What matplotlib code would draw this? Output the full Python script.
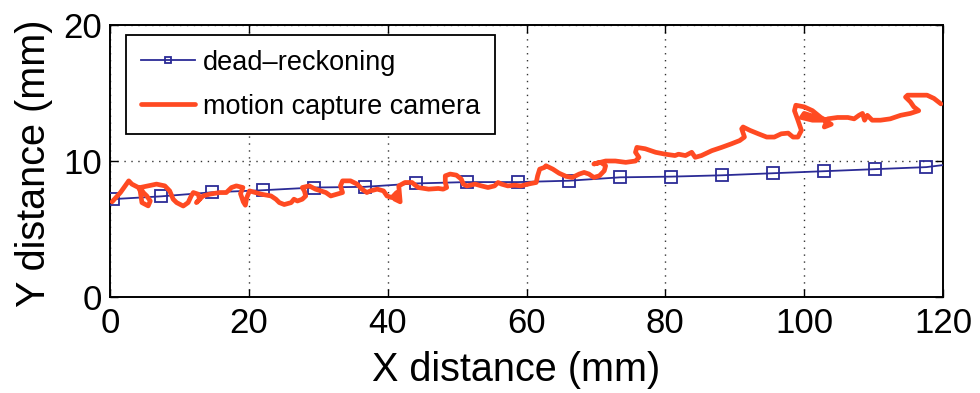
import matplotlib
matplotlib.use("Agg")
import matplotlib.pyplot as plt
import numpy as np

plt.rcParams['font.family'] = ['Liberation Sans', 'DejaVu Sans']

# dead-reckoning estimate
dr_x = [0.5, 7.35, 14.7, 22.0, 29.4, 36.7, 44.1, 51.4, 58.8, 66.1, 73.5, 80.8,
        88.2, 95.5, 102.9, 110.2, 117.6, 120.0]
dr_y = [7.2, 7.4, 7.7, 7.85, 8.05, 8.1, 8.35, 8.45, 8.45, 8.55, 8.8, 8.85,
        8.95, 9.1, 9.25, 9.4, 9.55, 9.7]

# motion capture camera trajectory
mc_x = [0.3, 1.5, 2.7, 3.15, 4.1, 4.35, 4.6, 5.5, 5.8, 5.3, 4.8, 4.35, 5.5, 6.7,
        7.9, 8.6, 9.1, 9.6, 10.55, 11.25, 11.7, 12.0, 12.7, 12.9, 12.45, 13.4,
        14.35, 15.8, 16.75, 17.5, 18.2, 19.15, 18.8, 19.2, 19.5, 19.7, 20.1,
        21.8, 23.2, 23.9, 24.4, 25.1, 26.1, 26.5, 27.0, 27.7, 28.2, 28.0, 27.7,
        28.7, 29.6, 30.4, 31.1, 31.8, 32.7, 33.5, 33.2, 33.5, 34.65, 35.6, 36.3,
        37.0, 37.5, 38.5, 39.4, 39.9, 40.6, 41.3, 41.0, 41.8, 41.6, 42.5, 43.5,
        44.4, 45.9, 47.3, 48.0, 48.5, 48.3, 48.3, 49.0, 49.9, 50.6, 50.9, 51.4,
        52.6, 53.5, 54.45, 55.4, 55.9, 56.4, 57.3, 58.3, 59.2, 60.2, 61.4, 61.6,
        61.9, 62.6, 62.8, 63.8, 64.7, 65.7, 66.6, 67.6, 68.3, 69.0, 69.7, 70.5,
        71.2, 71.4, 70.7, 69.7, 71.4, 72.8, 74.3, 75.7, 76.2, 75.7, 75.9, 77.1,
        78.6, 80.0, 81.4, 81.9, 82.9, 83.8, 84.3, 85.2, 86.7, 88.1, 89.5, 90.7,
        91.4, 91.0, 91.2, 92.2, 93.4, 94.6, 95.7, 96.7, 97.7, 98.4, 99.1, 99.6,
        99.1, 98.6, 98.8, 100.0, 101.2, 102.4, 103.1, 100.0, 99.6, 101.2, 102.9,
        103.9, 102.9, 103.4, 104.8, 106.3, 107.2, 107.9, 108.4, 108.7, 109.1,
        109.8, 111.0, 112.4, 113.9, 115.3, 116.5, 115.8, 115.3, 114.6, 114.9,
        116.3, 117.7, 118.7, 119.7]
mc_y = [7.0, 7.68, 8.54, 8.3, 8.05, 7.8, 6.94, 6.7, 7.06, 7.43, 7.68, 8.05, 8.17,
        8.3, 8.17, 7.8, 7.19, 6.94, 6.69, 6.94, 7.43, 7.68, 7.56, 7.19, 6.94,
        7.43, 7.56, 7.68, 7.68, 8.05, 8.17, 8.05, 7.6, 7.0, 6.75, 7.3, 7.8,
        7.56, 7.43, 7.19, 6.94, 6.8, 6.94, 7.19, 7.06, 7.19, 7.43, 7.8, 8.05,
        8.17, 7.93, 7.8, 7.68, 7.43, 7.56, 7.68, 8.17, 8.54, 8.54, 8.3, 7.93,
        7.68, 7.8, 7.93, 7.8, 7.43, 7.31, 7.68, 7.2, 7.0, 8.17, 8.42, 8.42,
        8.05, 7.93, 7.98, 7.93, 8.05, 8.42, 8.91, 9.04, 8.96, 8.67, 8.3, 8.17,
        8.3, 8.17, 8.05, 8.17, 8.42, 8.3, 8.17, 8.22, 8.17, 8.3, 8.42, 8.91,
        9.4, 9.53, 9.65, 9.4, 9.1, 8.87, 8.79, 9.04, 9.16, 9.04, 8.79, 8.91,
        9.28, 9.65, 9.9, 9.78, 10.0, 10.0, 9.9, 10.0, 10.27, 10.64, 11.0, 10.9,
        10.64, 10.5, 10.4, 10.5, 10.4, 10.64, 10.27, 10.4, 10.76, 11.0, 11.26,
        11.5, 11.76, 12.37, 12.5, 12.25, 12.0, 11.76, 11.76, 12.0, 12.05, 11.76,
        11.76, 12.25, 13.0, 13.7, 14.1, 13.98, 13.7, 13.2, 13.0, 13.5, 13.2,
        13.0, 13.0, 12.7, 12.5, 13.1, 13.2, 13.2, 13.1, 13.36, 13.5, 13.0,
        13.36, 13.0, 13.0, 13.1, 13.36, 13.5, 13.7, 13.98, 14.35, 14.7, 14.84,
        14.84, 14.84, 14.6, 14.2]

x_ticks = [0, 20, 40, 60, 80, 100, 120]
y_ticks = [0, 10, 20]

fig = plt.figure(figsize=(9.8, 3.93), dpi=100)
ax = fig.add_axes([110 / 980, 1 - 297 / 393, 833 / 980, 272 / 393])

ax.plot(dr_x, dr_y, color='#2b2b96', lw=1.3, marker='s', markersize=8,
        markerfacecolor='none', markeredgecolor='#2b2b96', markeredgewidth=1.3,
        markevery=list(range(17)), label='dead\u2013reckoning', zorder=3)
ax.plot(mc_x, mc_y, color='#ff4a22', lw=3.4, solid_joinstyle='round',
        solid_capstyle='round', label='motion capture camera', zorder=4)

ax.set_xlim(0, 120)
ax.set_ylim(0, 20)
ax.set_xticks(x_ticks)
ax.set_yticks(y_ticks)
ax.tick_params(axis='both', direction='in', top=True, right=True,
               labelsize=25, length=6, width=1)
ax.tick_params(axis='x', pad=7)
ax.tick_params(axis='y', pad=6)
ax.grid(True, linestyle=(0, (1, 4)), color='#333333', lw=1.0)
for s in ax.spines.values():
    s.set_linewidth(1.4)

ax.set_xlabel('X distance (mm)', fontsize=28.5)
ax.xaxis.set_label_coords(0.487, -0.20)
ax.set_ylabel('Y distance (mm)', fontsize=28.5)
ax.yaxis.set_label_coords(-0.068, 0.49)

leg = ax.legend(loc='upper left', fontsize=19.5, frameon=True, fancybox=False,
                edgecolor='black', framealpha=1, handlelength=2.0,
                handletextpad=0.3, borderpad=0.55, labelspacing=0.65,
                borderaxespad=0, markerscale=0.6,
                bbox_to_anchor=(16 / 833, 1 - 10 / 272))
leg.get_frame().set_linewidth(1.3)

fig.savefig('out.png', dpi=100)
